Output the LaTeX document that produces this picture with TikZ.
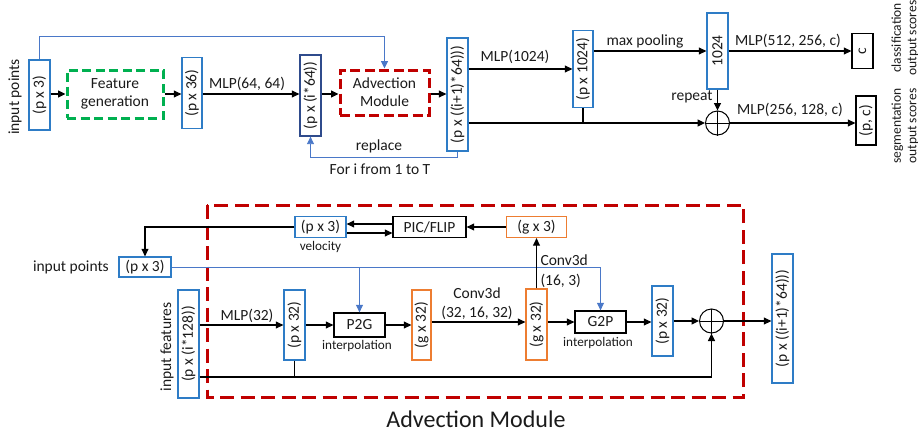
\documentclass[tikz,border=0pt]{standalone}
\usepackage{fontspec}
\setmainfont{Carlito}
\usepackage{graphicx}
\usetikzlibrary{arrows.meta,calc}
\definecolor{boxblue}{HTML}{2E7CC6}
\definecolor{navyb}{HTML}{2F4B8C}
\definecolor{lineblue}{HTML}{4A78C8}
\definecolor{orng}{HTML}{ED7D31}
\definecolor{grn}{HTML}{00B050}
\definecolor{dred}{HTML}{C00000}
\definecolor{txt}{HTML}{1A1A1A}
\begin{document}
\begin{tikzpicture}[x=1pt,y=-1pt,
  font=\fontsize{15.5}{18}\selectfont,
  every node/.style={text=txt},
  box/.style={draw, line width=1.3pt, inner sep=0pt, fill=white},
  bbx/.style={box, draw=boxblue},
  nbx/.style={box, draw=navyb},
  obx/.style={box, draw=orng},
  kbx/.style={box, draw=black},
  arr/.style={-{Triangle[length=7.5pt,width=7pt]}, line width=1.1pt},
  plain/.style={line width=1.1pt},
  bl/.style={lineblue, line width=0.9pt},
  blarr/.style={bl, -{Triangle[length=7.5pt,width=7pt]}},
  small/.style={font=\fontsize{13.2}{15}\selectfont},
  side/.style={rotate=90, align=center, font=\fontsize{13.5}{15.5}\selectfont},
  plus/.style={circle, draw, line width=1pt, minimum size=24pt, inner sep=0pt},
  gdash/.style={draw=grn, line width=3pt, dash pattern=on 9pt off 4.5pt, inner sep=0pt, align=center},
  rdash/.style={draw=dred, line width=3pt, dash pattern=on 10pt off 4.5pt, inner sep=0pt, align=center},
]
\useasboundingbox (0,0) rectangle (918,434);

% ---------------- top ----------------
\node[rotate=90] (tip) at (15,97) {input points};
\node[bbx, minimum width=21pt, minimum height=70pt] (ip3) at (39.5,95) {\rotatebox{90}{(p x 3)}};
\node[gdash, minimum width=96pt, minimum height=48pt] (feat) at (115,94) {Feature\\generation};
\node[bbx, minimum width=20pt, minimum height=71pt] (p36) at (192,93) {\rotatebox{90}{(p x 36)}};
\node[nbx, minimum width=21pt, minimum height=81pt] (pi64) at (310.5,95.5) {\rotatebox{90}{(p x (i*64))}};
\node[rdash, minimum width=89pt, minimum height=45pt] (adv) at (384.5,92.5) {Advection\\Module};
\node[bbx, minimum width=21pt, minimum height=113pt] (pi1) at (457.5,94.5) {\rotatebox{90}{(p x ((i+1)*64)))}};
\node[bbx, minimum width=20pt, minimum height=77pt] (p1024) at (583,69) {\rotatebox{90}{(p x 1024)}};
\node[bbx, minimum width=21pt, minimum height=76pt] (n1024) at (717.5,51) {\rotatebox{90}{1024}};
\node[kbx, minimum width=21pt, minimum height=35pt] (cc) at (862.5,51) {\rotatebox{90}{c}};
\node[kbx, minimum width=20pt, minimum height=49pt] (pc) at (866,120.5) {\rotatebox{90}{(p, c)}};
\node[plus] (pl1) at (717.5,123) {};
\draw[line width=0.6pt] (pl1.north) -- (pl1.south) (pl1.west) -- (pl1.east);
\node[side] (cls) at (905,38) {classification\\output scores};
\node[side] (seg) at (905,126) {segmentation\\output scores};

\draw[arr] (ip3.east |- feat.west) -- (feat.west);
\draw[arr] (feat.east) -- (feat.east -| p36.west);
\draw[arr] (p36.east |- feat.east) -- (pi64.west |- feat.east);
\node at (247,84) {MLP(64, 64)};
\draw[arr] (pi64.east |- feat.east) -- (adv.west |- feat.east);
\draw[arr] (adv.east |- feat.east) -- (pi1.west |- feat.east);
\draw[blarr] (ip3.north) -- (ip3.north |- 0,36) -| (adv.north);
\draw[blarr] (pi1.south) -- ++(0,6) -| (pi64.south);
\node at (379,146) {replace};
\node at (380,169) {For i from 1 to T};
\draw[arr] (pi1.east |- p1024.west) -- (p1024.west);
\node at (515,57) {MLP(1024)};
\draw[arr] (p1024.east |- n1024.west) -- (n1024.west);
\node at (645,41) {max pooling};
\draw[arr] (n1024.east) -- (cc.west);
\node at (788,41) {MLP(512, 256, c)};
\draw[arr] (n1024.south) -- (pl1.north);
\node at (692,97) {repeat};
\draw[arr] (pi1.east |- pl1.west) -- (pl1.west);
\draw[plain] (p1024.south) -- (p1024.south |- pl1.west);
\draw[arr] (pl1.east) -- (pl1.east -| pc.west);
\node at (790,110) {MLP(256, 128, c)};

% ---------------- bottom ----------------
\draw[draw=dred, line width=3pt, dash pattern=on 14pt off 6.5pt] (207,205) rectangle (743,397);
\node[font=\fontsize{24}{28}\selectfont] (cap) at (476,419) {Advection Module};

\node[bbx, minimum width=51pt, minimum height=21pt] (vel) at (320.5,227) {(p x 3)};
\node[small] at (320.5,247) {velocity};
\node[kbx, minimum width=73pt, minimum height=21pt] (pic) at (429.5,227) {PIC/FLIP};
\node[obx, minimum width=60pt, minimum height=21pt] (g3) at (536.5,227) {(g x 3)};
\node[bbx, minimum width=52pt, minimum height=20pt] (ip3b) at (145,267) {(p x 3)};
\node[anchor=east] (bip) at ([xshift=-6pt]ip3b.west) {input points};
\node[rotate=90] (bif) at (167,347) {input features};
\node[bbx, minimum width=21pt, minimum height=108pt] (inf) at (188.5,344) {\rotatebox{90}{(p x (i*128))}};
\node[bbx, minimum width=21pt, minimum height=70pt] (p32a) at (294.5,325) {\rotatebox{90}{(p x 32)}};
\node[kbx, minimum width=51pt, minimum height=24pt] (p2g) at (359.5,325) {P2G};
\node[small] at (357,346) {interpolation};
\node[obx, minimum width=19pt, minimum height=70pt] (g32a) at (421.5,325) {\rotatebox{90}{(g x 32)}};
\node[obx, minimum width=21pt, minimum height=71pt] (g32b) at (536.5,324.5) {\rotatebox{90}{(g x 32)}};
\node[kbx, minimum width=51pt, minimum height=22pt] (g2p) at (600.5,322) {G2P};
\node[small] at (598,343) {interpolation};
\node[bbx, minimum width=21pt, minimum height=70pt] (p32b) at (662.5,321) {\rotatebox{90}{(p x 32)}};
\node[plus] (pl2) at (711.5,321) {};
\draw[line width=0.6pt] (pl2.north) -- (pl2.south) (pl2.west) -- (pl2.east);
\node[bbx, minimum width=21pt, minimum height=129pt] (out) at (782.5,318.5) {\rotatebox{90}{(p x ((i+1)*64)))}};

\draw[arr] (g3.west) -- (pic.east);
\draw[arr] ([yshift=3pt]pic.west) -- ([yshift=3pt]vel.east);
\draw[arr] ([yshift=-6pt]vel.east) -- ([yshift=-6pt]pic.west);
\draw[arr] (vel.west) -| (ip3b.north);
\draw[blarr] (ip3b.east) -| (g2p.north);
\draw[blarr] (ip3b.east -| p2g.north) -- (p2g.north);
\draw[arr] (inf.east |- p32a.west) -- (p32a.west);
\node at (247,316) {MLP(32)};
\draw[arr] (p32a.east) -- (p2g.west);
\draw[arr] (p2g.east) -- (g32a.west |- p2g.east);
\draw[arr] (g32a.east |- g2p.west) -- (g32b.west |- g2p.west);
\node at (477,293) {Conv3d};
\node at (477,313) {(32, 16, 32)};
\draw[arr] (g32b.north) -- (g3.south);
\node[anchor=west] at (537,260) {Conv3d};
\node[anchor=west] at (537,281) {(16, 3)};
\draw[arr] (g32b.east |- g2p.west) -- (g2p.west);
\draw[arr] (g2p.east) -- (g2p.east -| p32b.west);
\draw[arr] (p32b.east |- pl2.west) -- (pl2.west);
\draw[arr] (pl2.east) -- (pl2.east -| out.west);
\draw[arr] ([yshift=-33pt]inf.east) -| (pl2.south);
\draw[plain] (p32a.south) -- ([yshift=-33pt]inf.east -| p32a.south);
\end{tikzpicture}
\end{document}
